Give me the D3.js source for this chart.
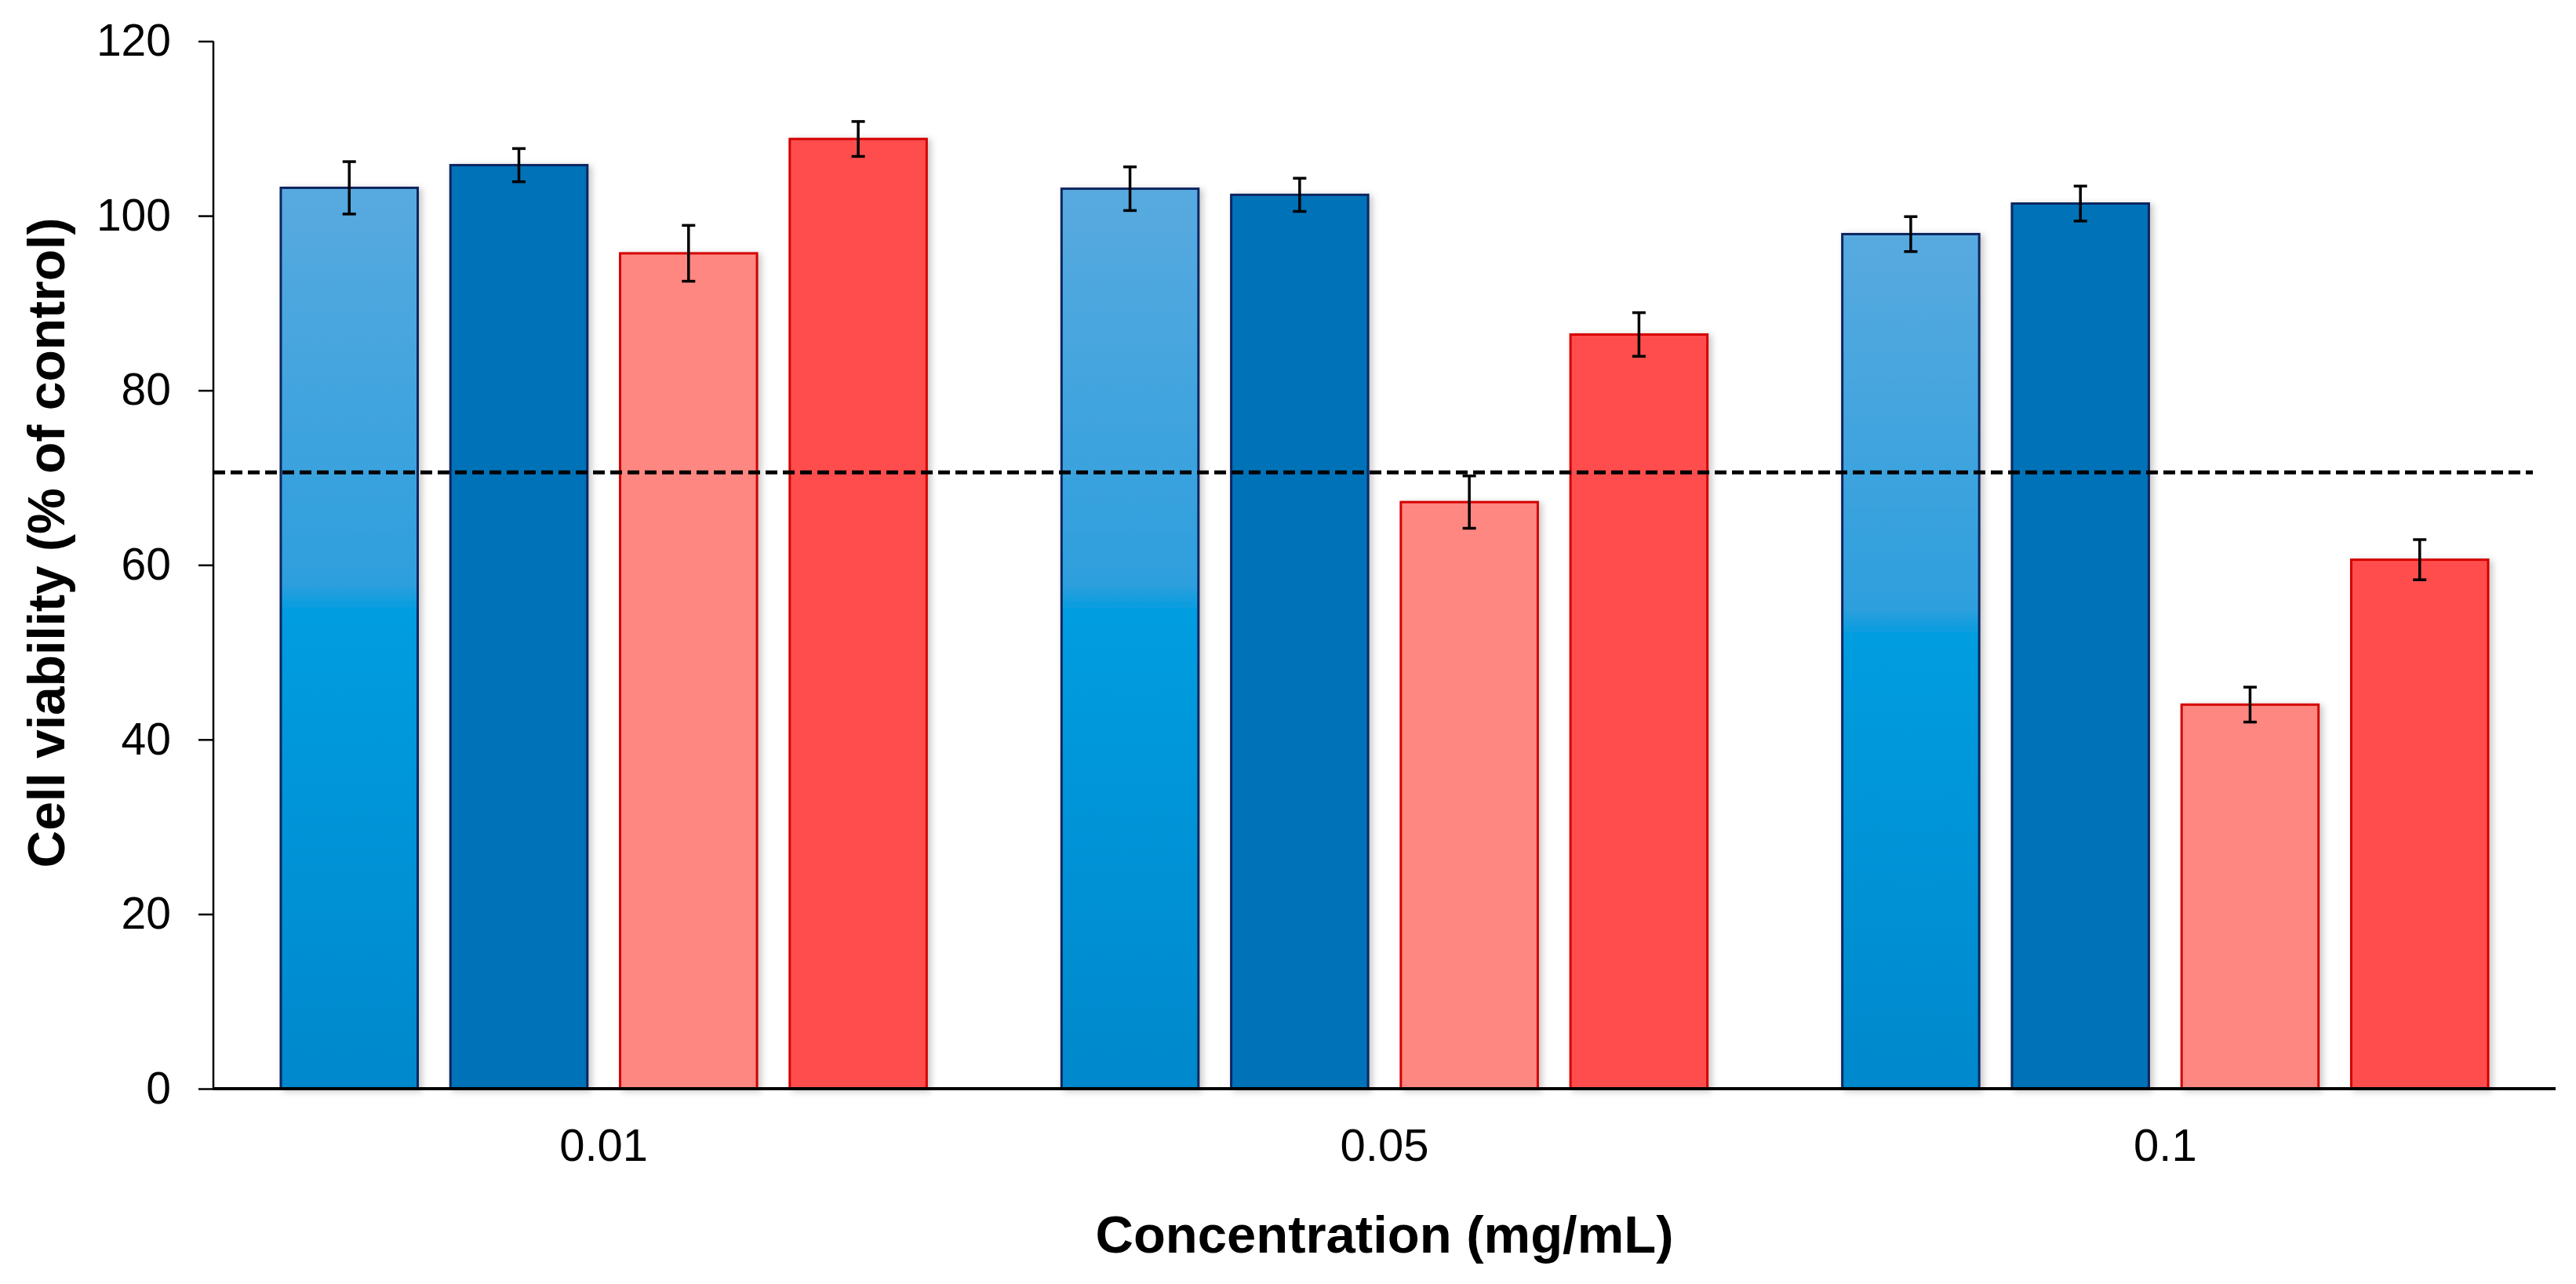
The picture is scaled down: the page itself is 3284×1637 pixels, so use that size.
<!DOCTYPE html>
<html>
<head>
<meta charset="utf-8">
<script src="https://cdn.jsdelivr.net/npm/d3@7"></script>
<style>
  html, body { margin: 0; padding: 0; background: #ffffff; }
  svg { display: block; }
  text { font-family: "Liberation Sans", Arial, sans-serif; }
</style>
</head>
<body>
<svg id="chart" width="3284" height="1637"></svg>
<script>
// ---- data ----
const categories = ["0.01", "0.05", "0.1"];
const seriesNames = ["S1", "S2", "S3", "S4"];
const s1Values = [103.2, 103.1, 97.9];
const s2Values = [105.8, 102.4, 101.4];
const s3Values = [95.7, 67.2, 44.0];
const s4Values = [108.8, 86.4, 60.6];
const s1Err = [3.0, 2.5, 2.0];
const s2Err = [1.9, 1.9, 2.0];
const s3Err = [3.2, 3.0, 2.0];
const s4Err = [2.0, 2.5, 2.3];
const yTicks = [0, 20, 40, 60, 80, 100, 120];
const thresholdValue = 70.6;
const xTitle = "Concentration (mg/mL)";
const yTitle = "Cell viability (% of control)";

const values = [s1Values, s2Values, s3Values, s4Values];
const errs = [s1Err, s2Err, s3Err, s4Err];

// ---- layout ----
const W = 3284, H = 1637;
const margin = { left: 272, right: 26, top: 52.5, bottom: 249 };
const svg = d3.select("#chart");

const x0 = d3.scaleBand().domain(categories)
  .range([margin.left, W - margin.right]).paddingInner(0).paddingOuter(0);
const x1 = d3.scaleBand().domain(seriesNames)
  .range([0, x0.bandwidth()]).paddingInner(0.193).paddingOuter(0.3975);
const y = d3.scaleLinear().domain([0, 120]).range([H - margin.bottom, margin.top]);

// ---- defs ----
const defs = svg.append("defs");
const g1 = defs.append("linearGradient").attr("id", "gradS1")
  .attr("x1", 0).attr("y1", 0).attr("x2", 0).attr("y2", 1);
[["0%", "#58AADF"], ["44%", "#2E9FDD"], ["47%", "#009DE0"], ["100%", "#0088CC"]]
  .forEach(([o, c]) => g1.append("stop").attr("offset", o).attr("stop-color", c));

const shadow = defs.append("filter").attr("id", "shadow")
  .attr("x", "-10%").attr("y", "-5%").attr("width", "125%").attr("height", "110%");
shadow.append("feDropShadow").attr("dx", 4).attr("dy", 2)
  .attr("stdDeviation", 4).attr("flood-color", "#000").attr("flood-opacity", 0.22);

const fills = ["url(#gradS1)", "#0072B8", "#FF8781", "#FF4D4D"];
const strokes = ["#0B2660", "#0B2660", "#D40000", "#D40000"];

// ---- bars ----
const barData = [];
categories.forEach((c, ci) => {
  seriesNames.forEach((s, si) => {
    barData.push({ cat: c, ser: s, si: si, v: values[si][ci], e: errs[si][ci] });
  });
});

const bars = svg.append("g");
bars.selectAll("rect").data(barData).join("rect")
  .attr("x", d => x0(d.cat) + x1(d.ser))
  .attr("y", d => y(d.v))
  .attr("width", x1.bandwidth())
  .attr("height", d => y(0) - y(d.v))
  .attr("fill", d => fills[d.si])
  .attr("stroke", d => strokes[d.si])
  .attr("stroke-width", 3)
  .attr("filter", "url(#shadow)");

// ---- threshold ----
svg.append("line")
  .attr("x1", margin.left).attr("x2", 3229)
  .attr("y1", y(thresholdValue)).attr("y2", y(thresholdValue))
  .attr("stroke", "#000").attr("stroke-width", 5)
  .attr("stroke-dasharray", "15,7");

// ---- error bars ----
const eb = svg.append("g").attr("stroke", "#000").attr("stroke-width", 3.5);
const cx = d => x0(d.cat) + x1(d.ser) + x1.bandwidth() / 2;
const capW = 17;
eb.selectAll("line.v").data(barData).join("line").attr("class", "v")
  .attr("x1", cx).attr("x2", cx)
  .attr("y1", d => y(d.v + d.e)).attr("y2", d => y(d.v - d.e));
eb.selectAll("line.t").data(barData).join("line").attr("class", "t")
  .attr("x1", d => cx(d) - capW / 2).attr("x2", d => cx(d) + capW / 2)
  .attr("y1", d => y(d.v + d.e)).attr("y2", d => y(d.v + d.e));
eb.selectAll("line.b").data(barData).join("line").attr("class", "b")
  .attr("x1", d => cx(d) - capW / 2).attr("x2", d => cx(d) + capW / 2)
  .attr("y1", d => y(d.v - d.e)).attr("y2", d => y(d.v - d.e));

// ---- axes ----
const yAxis = d3.axisLeft(y).tickValues(yTicks).tickSize(19).tickPadding(35)
  .tickFormat(d3.format("d"));
const yg = svg.append("g").attr("transform", `translate(${margin.left},0)`).call(yAxis);
yg.select(".domain").attr("stroke", "#000").attr("stroke-width", 2.5)
  .attr("d", `M0,${y(120)}V${y(0)}`);
yg.selectAll(".tick line").attr("stroke", "#000").attr("stroke-width", 2.5);
yg.selectAll(".tick text").attr("font-size", 57).attr("fill", "#000")
  .attr("font-family", "'Liberation Sans', Arial, sans-serif");

const xAxis = d3.axisBottom(x0).tickSize(0).tickPadding(50);
const xg = svg.append("g").attr("transform", `translate(0,${y(0)})`).call(xAxis);
xg.select(".domain").attr("stroke", "#000").attr("stroke-width", 4)
  .attr("d", `M${margin.left},0H${W - margin.right}`);
xg.selectAll(".tick text").attr("font-size", 58).attr("fill", "#000")
  .attr("font-family", "'Liberation Sans', Arial, sans-serif")
  .attr("dy", null).attr("y", 92);

// ---- titles ----
svg.append("text")
  .attr("x", (margin.left + W - margin.right) / 2)
  .attr("y", 1597)
  .attr("text-anchor", "middle")
  .attr("font-size", 67).attr("font-weight", "bold").attr("fill", "#000")
  .text(xTitle);

svg.append("text")
  .attr("transform", `translate(82,${692}) rotate(-90)`)
  .attr("text-anchor", "middle")
  .attr("font-size", 66).attr("font-weight", "bold").attr("fill", "#000")
  .text(yTitle);
</script>
</body>
</html>
